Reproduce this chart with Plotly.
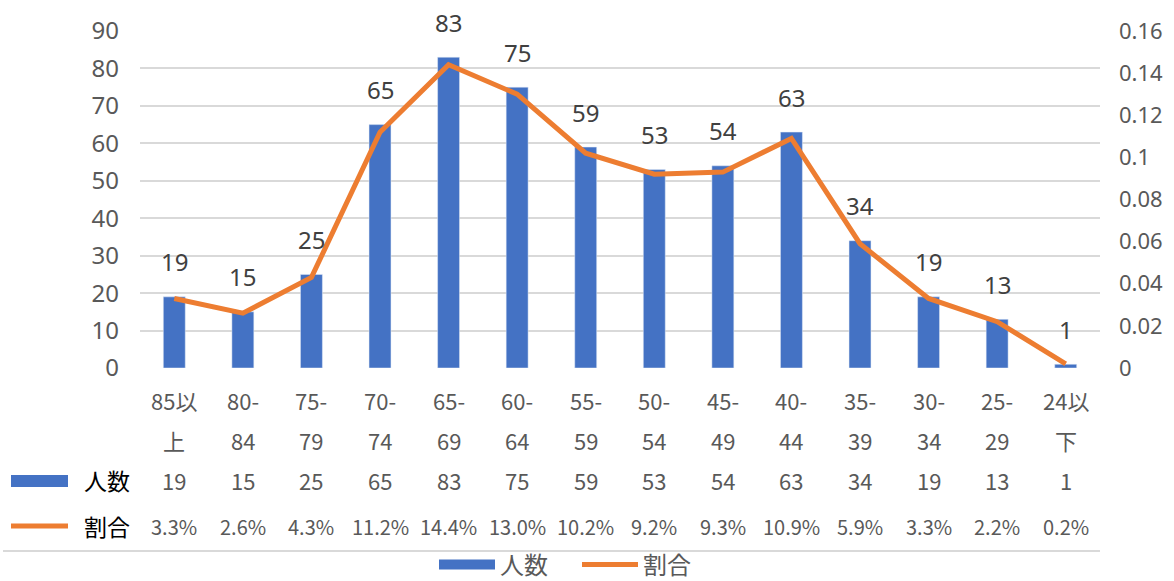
import plotly.graph_objects as go

categories = ["85以上", "80-84", "75-79", "70-74", "65-69", "60-64", "55-59",
              "50-54", "45-49", "40-44", "35-39", "30-34", "25-29", "24以下"]
label_top = ["85以", "80-", "75-", "70-", "65-", "60-", "55-",
             "50-", "45-", "40-", "35-", "30-", "25-", "24以"]
label_bottom = ["上", "84", "79", "74", "69", "64", "59",
                "54", "49", "44", "39", "34", "29", "下"]
counts = [19, 15, 25, 65, 83, 75, 59, 53, 54, 63, 34, 19, 13, 1]
ratios = [0.033, 0.026, 0.043, 0.112, 0.144, 0.130, 0.102,
          0.092, 0.093, 0.109, 0.059, 0.033, 0.022, 0.002]
left_ticks = [0, 10, 20, 30, 40, 50, 60, 70, 80, 90]
right_ticks = [0, 0.02, 0.04, 0.06, 0.08, 0.10, 0.12, 0.14, 0.16]
right_ticktext = ["0", "0.02", "0.04", "0.06", "0.08", "0.1", "0.12", "0.14", "0.16"]

BLUE = "#4472C4"
ORANGE = "#ED7D31"
GRAY = "#595959"
DARK = "#404040"
FONT = "Noto Sans, Noto Sans CJK JP, sans-serif"
JFONT = "Noto Sans CJK JP, Noto Sans, sans-serif"

W, H = 1174, 581
ML, MR, MT, MB = 140, 74, 31, 213
PH = H - MT - MB
PW = W - ML - MR


def py(p):
    return (H - MB - p) / PH


def px(p):
    return (p - ML) / PW


fig = go.Figure()
fig.add_trace(go.Bar(x=categories, y=counts, name="人数", marker_color=BLUE,
                     width=0.32, showlegend=False))
fig.add_trace(go.Scatter(x=categories, y=ratios, name="割合", mode="lines",
                         line=dict(color=ORANGE, width=5), yaxis="y2",
                         showlegend=False))
# legend entries
fig.add_trace(go.Scatter(x=[None], y=[None], name="人数", mode="lines",
                         line=dict(color=BLUE, width=12)))
fig.add_trace(go.Scatter(x=[None], y=[None], name="割合", mode="lines",
                         line=dict(color=ORANGE, width=5), yaxis="y2"))

ann = []
for c, v in zip(categories, counts):
    ann.append(dict(x=c, y=v, xref="x", yref="y", text=str(v), showarrow=False,
                    yshift=35, font=dict(size=24, color=DARK, family=FONT)))
for c, t, b, v, r in zip(categories, label_top, label_bottom, counts, ratios):
    ann.append(dict(x=c, y=py(400), xref="x", yref="paper", text=t, showarrow=False,
                    xanchor="center", yanchor="middle",
                    font=dict(size=22, color=GRAY, family=JFONT)))
    ann.append(dict(x=c, y=py(440), xref="x", yref="paper", text=b, showarrow=False,
                    xanchor="center", yanchor="middle",
                    font=dict(size=22, color=GRAY, family=JFONT)))
    ann.append(dict(x=c, y=py(480), xref="x", yref="paper", text=str(v), showarrow=False,
                    xanchor="center", yanchor="middle",
                    font=dict(size=22, color=GRAY, family=JFONT)))
    ann.append(dict(x=c, y=py(526), xref="x", yref="paper", text=f"{r*100:.1f}%",
                    showarrow=False, xanchor="center", yanchor="middle",
                    font=dict(size=20, color=GRAY, family=JFONT)))
ann.append(dict(x=px(107), y=py(480), xref="paper", yref="paper", text="人数",
                showarrow=False, xanchor="center", yanchor="middle",
                font=dict(size=23, color="#000000", family=JFONT)))
ann.append(dict(x=px(107), y=py(526), xref="paper", yref="paper", text="割合",
                showarrow=False, xanchor="center", yanchor="middle",
                font=dict(size=23, color="#000000", family=JFONT)))

shapes = [
    dict(type="rect", xref="paper", yref="paper", x0=px(11), x1=px(68),
         y0=py(487), y1=py(475), fillcolor=BLUE, line=dict(width=0)),
    dict(type="line", xref="paper", yref="paper", x0=px(11), x1=px(68),
         y0=py(526), y1=py(526), line=dict(color=ORANGE, width=5)),
    dict(type="line", xref="paper", yref="paper", x0=px(3), x1=px(1100),
         y0=py(551), y1=py(551), line=dict(color="#D9D9D9", width=2)),
]

fig.update_layout(
    width=W, height=H, autosize=False,
    margin=dict(l=ML, r=MR, t=MT, b=MB, pad=0, autoexpand=False),
    paper_bgcolor="white", plot_bgcolor="white",
    font=dict(family=FONT, color=GRAY),
    xaxis=dict(type="category", showticklabels=False, showgrid=False,
               zeroline=False, showline=False, ticks=""),
    yaxis=dict(range=[0, 90], tickvals=left_ticks, showgrid=True,
               gridcolor="#D9D9D9", gridwidth=1.5, zeroline=True,
               zerolinecolor="rgba(255,255,255,0)", showline=False, ticks="",
               ticklabelstandoff=20,
               tickfont=dict(size=24, color=GRAY, family=FONT)),
    yaxis2=dict(overlaying="y", side="right", range=[0, 0.16],
                tickvals=right_ticks, ticktext=right_ticktext, showgrid=False,
                zeroline=False, showline=False, ticks="", ticklabelstandoff=18,
                tickfont=dict(size=22, color=GRAY, family=FONT)),
    showlegend=True,
    legend=dict(orientation="h", x=px(577), xanchor="center", y=py(565),
                yanchor="middle", itemwidth=56, entrywidth=72,
                entrywidthmode="pixels", borderwidth=0,
                font=dict(size=24, color=GRAY, family=JFONT),
                bgcolor="rgba(0,0,0,0)"),
    annotations=ann,
    shapes=shapes,
)

fig.write_html("out.html")
